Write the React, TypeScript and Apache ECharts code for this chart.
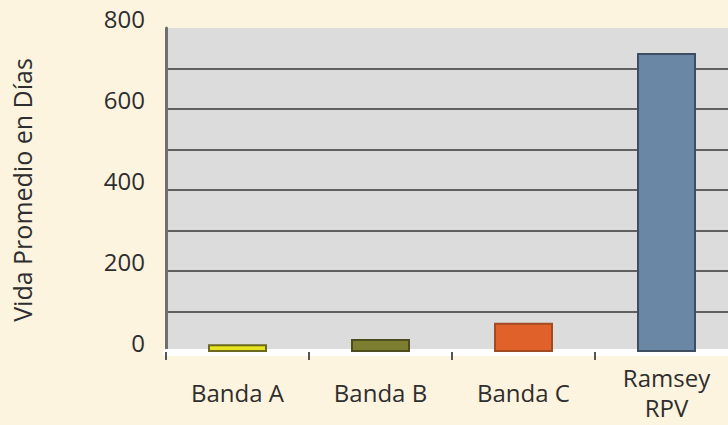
import React, { useEffect, useRef } from "react";
import * as echarts from "echarts";

const categories = ["Banda A", "Banda B", "Banda C", "Ramsey\nRPV"];
const values = [19, 32, 72, 738];
const fillColors = ["#E6E320", "#7E7E30", "#E0622A", "#6A87A6"];
const edgeColors = ["#6B6A1E", "#4C4C1E", "#A24A22", "#3E4E60"];
const yTicks = [0, 200, 400, 600, 800];
const yAxisTitle = "Vida Promedio en Días";

export default function App() {
  const ref = useRef<HTMLDivElement>(null);
  useEffect(() => {
    document.body.style.margin = "0";
    const chart = echarts.init(ref.current!, null, { renderer: "svg" });
    const font = "'Open Sans', 'Noto Sans', sans-serif";
    chart.setOption({
      animation: false,
      backgroundColor: "#FDF4E0",
      grid: {
        left: 166,
        top: 28,
        right: -10,
        bottom: 73,
        outerBoundsMode: "none",
        containLabel: false,
        show: true,
        backgroundColor: "#DCDCDC",
        borderWidth: 0,
      },
      xAxis: [
        {
          type: "category",
          data: categories,
          position: "bottom",
          offset: 5,
          axisLine: { show: true, lineStyle: { color: "#FFFFFF", width: 7 } },
          axisTick: { show: false },
          axisLabel: {
            margin: 35,
            fontSize: 24,
            lineHeight: 30,
            verticalAlign: "middle",
            color: "#2E2E2E",
            fontFamily: font,
          },
        },
        {
          type: "category",
          data: categories,
          position: "bottom",
          axisLine: { show: false },
          axisTick: { show: true, length: 8, lineStyle: { color: "#555", width: 2 } },
          axisLabel: { show: false },
        },
      ],
      yAxis: {
        type: "value",
        min: 0,
        max: 800,
        interval: 100,
        name: yAxisTitle,
        nameLocation: "middle",
        nameRotate: 90,
        nameGap: 132,
        nameTextStyle: { fontSize: 25, color: "#2E2E2E", fontFamily: font },
        axisLine: { show: true, lineStyle: { color: "#707070", width: 3 } },
        axisTick: { show: false },
        axisLabel: {
          margin: 21,
          fontSize: 24,
          lineHeight: 20,
          verticalAlign: "bottom",
          color: "#2E2E2E",
          fontFamily: font,
          formatter: (v: number) => (yTicks.includes(v) ? String(v) : ""),
        },
        splitLine: {
          show: true,
          showMaxLine: false,
          lineStyle: {
            color: "#606060",
            width: 2,
          },
        },
      },
      series: [
        {
          type: "bar",
          xAxisIndex: 0,
          barWidth: 59,
          data: values.map((v, i) => ({
            value: v,
            itemStyle: {
              color: fillColors[i],
              borderColor: edgeColors[i],
              borderWidth: 2,
            },
          })),
        },
      ],
    });
    return () => chart.dispose();
  }, []);
  return (
    <div
      ref={ref}
      style={{ position: "absolute", left: 0, top: 0, width: 728, height: 425 }}
    />
  );
}
